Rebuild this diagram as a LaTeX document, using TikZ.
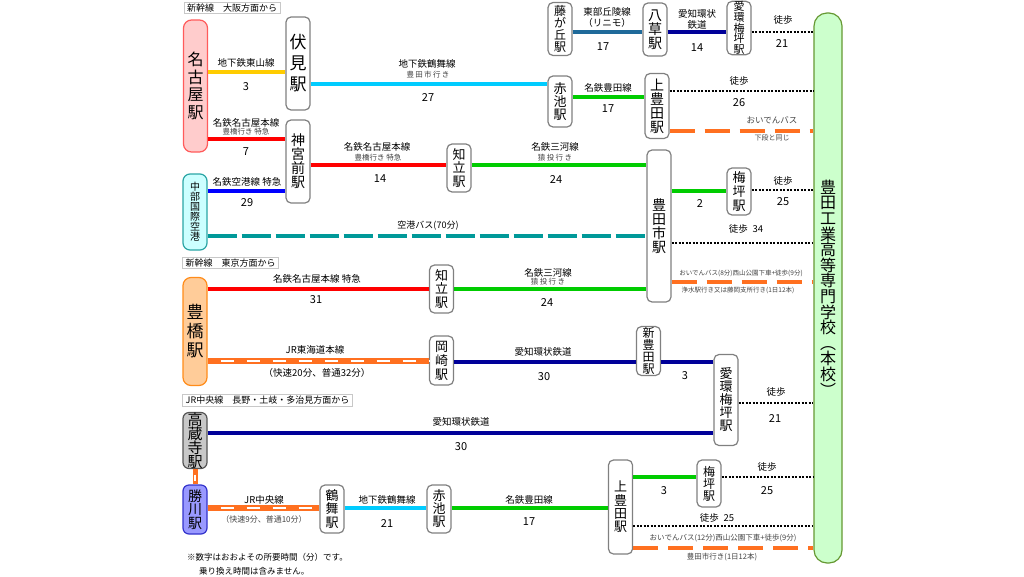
\documentclass[tikz,border=0pt]{standalone}
\usepackage{fontspec}
\setmainfont{Noto Sans CJK JP}
\newfontfamily\spfont[LetterSpace=18]{Noto Sans CJK JP}
\definecolor{stgray}{HTML}{808080}
\definecolor{hdrgray}{HTML}{C8C8C8}
\definecolor{subgray}{HTML}{444444}
\definecolor{nagofill}{HTML}{FFCCCC}
\definecolor{nagodraw}{HTML}{FF5B5B}
\definecolor{chubufill}{HTML}{CCFFFF}
\definecolor{chubudraw}{HTML}{2AA5A5}
\definecolor{toyofill}{HTML}{FFCC99}
\definecolor{toyodraw}{HTML}{FF8C1A}
\definecolor{kozofill}{HTML}{C8C8C8}
\definecolor{kozodraw}{HTML}{555555}
\definecolor{kachifill}{HTML}{9999FF}
\definecolor{kachidraw}{HTML}{3333CC}
\definecolor{kosenfill}{HTML}{CCFFCC}
\definecolor{kosendraw}{HTML}{669933}
\definecolor{cYel}{HTML}{FFCC00}
\definecolor{cCyn}{HTML}{00CCFF}
\definecolor{cGrn}{HTML}{00CC00}
\definecolor{cSteel}{HTML}{1F6A9A}
\definecolor{cNavy}{HTML}{000099}
\definecolor{cRed}{HTML}{FF0000}
\definecolor{cBlu}{HTML}{0000FF}
\definecolor{cTeal}{HTML}{009999}
\definecolor{cOrg}{HTML}{FF7020}
\tikzset{
  stn/.style={draw=stgray, line width=1.2pt, rounded corners=5pt, fill=white,
    minimum width=24pt, inner sep=0pt, align=center},
  lbl/.style={font=\fontsize{9.5}{10}\selectfont, inner sep=0pt},
  sublbl/.style={font=\fontsize{7.5}{8}\selectfont, text=subgray, inner sep=0pt},
  spsub/.style={font=\spfont\fontsize{7.5}{8}\selectfont, text=subgray, inner sep=0pt},
  num/.style={font=\fontsize{11}{11}\selectfont, inner sep=0pt},
  hdr/.style={draw=hdrgray, line width=0.8pt, font=\fontsize{9}{10}\selectfont,
    inner xsep=3pt, inner ysep=1.5pt},
  bussm/.style={font=\fontsize{6.5}{7}\selectfont, text=subgray, inner sep=0pt},
  busbg/.style={font=\fontsize{7.5}{8}\selectfont, text=subgray, inner sep=0pt},
  ln/.style={line width=4pt},
  walk/.style={line width=1.3pt, dash pattern=on 2pt off 1.5pt},
  bus/.style={draw=cOrg, line width=3.2pt, dash pattern=on 25pt off 10pt},
  abus/.style={draw=cTeal, line width=3.2pt, dash pattern=on 29pt off 5pt},
  jr/.style={draw=cOrg, line width=6pt,
    postaction={draw=white, line width=2.6pt, dash pattern=on 13pt off 13pt, dash phase=13pt}},
  jrv/.style={draw=cOrg, line width=5pt,
    postaction={draw=white, line width=2pt, dash pattern=on 6pt off 30pt, dash phase=30.5pt}},
}
\begin{document}
\begin{tikzpicture}[x=1pt,y=-1pt]
\useasboundingbox[fill=white] (0,0) rectangle (1024,576);

% headers
\node[hdr] (h1) at (232,8) {新幹線　大阪方面から};
\node[hdr] (h2) at (230.5,263) {新幹線　東京方面から};
\node[hdr] (h3) at (267.5,400.5) {JR中央線　長野・土岐・多治見方面から};

% stations
\node[stn, fill=nagofill, draw=nagodraw, rounded corners=8pt, minimum height=132pt,
  font=\fontsize{16}{17.5}\selectfont] (nagoya) at (195.5,86) {名\\古\\屋\\駅};
\node[stn, minimum height=93pt, font=\fontsize{17}{21}\selectfont] (fushimi) at (298,63.5) {伏\\見\\駅};
\node[stn, minimum height=83pt, font=\fontsize{14}{14}\selectfont] (jingu) at (298,161.5) {神\\宮\\前\\駅};
\node[stn, fill=chubufill, draw=chubudraw, rounded corners=7pt, minimum height=76pt,
  font=\fontsize{10}{10}\selectfont] (chubu) at (195,212) {中\\部\\国\\際\\空\\港};
\node[stn, minimum height=48pt, font=\fontsize{13}{13.5}\selectfont] (chiryu1) at (459,168) {知\\立\\駅};
\node[stn, minimum height=53pt, font=\fontsize{12}{12.3}\selectfont] (fujigaoka) at (560,29) {藤\\が\\丘\\駅};
\node[stn, minimum height=53pt, font=\fontsize{14}{14}\selectfont] (yakusa) at (655,29.5) {八\\草\\駅};
\node[stn, minimum height=53pt, font=\fontsize{11}{10.8}\selectfont] (aikan1) at (739,28) {愛\\環\\梅\\坪\\駅};
\node[stn, minimum height=51pt, font=\fontsize{13}{13}\selectfont] (akaike1) at (560,101.5) {赤\\池\\駅};
\node[stn, minimum height=65pt, font=\fontsize{14}{14}\selectfont] (kamitoyota1) at (657,106) {上\\豊\\田\\駅};
\node[stn, minimum height=152pt, font=\fontsize{14}{14}\selectfont] (toyotashi) at (659,226) {豊\\田\\市\\駅};
\node[stn, minimum height=47pt, font=\fontsize{13}{14}\selectfont] (umetsubo1) at (739,191.5) {梅\\坪\\駅};
\node[stn, fill=kosenfill, draw=kosendraw, rounded corners=13pt, minimum width=28pt,
  minimum height=550pt, font=\fontsize{16}{15.6}\selectfont] (kosen) at (828,288)
  {豊\\田\\工\\業\\高\\等\\専\\門\\学\\校\\︵\\本\\校\\︶};
\node[stn, fill=toyofill, draw=toyodraw, rounded corners=8pt, minimum height=108pt,
  font=\fontsize{17}{19}\selectfont] (toyohashi) at (195,331.5) {豊\\橋\\駅};
\node[stn, minimum height=48pt, font=\fontsize{13}{13.5}\selectfont] (chiryu2) at (441.5,289) {知\\立\\駅};
\node[stn, minimum height=49pt, font=\fontsize{13}{14}\selectfont] (okazaki) at (441.5,360.5) {岡\\崎\\駅};
\node[stn, minimum height=49pt, font=\fontsize{12}{12.3}\selectfont] (shintoyota) at (648.5,351) {新\\豊\\田\\駅};
\node[stn, minimum height=91pt, font=\fontsize{13}{13}\selectfont] (aikan2) at (726,400) {愛\\環\\梅\\坪\\駅};
\node[stn, fill=kozofill, draw=kozodraw, rounded corners=6pt, minimum height=56pt,
  font=\fontsize{15}{14}\selectfont] (kozoji) at (195,440.5) {高\\蔵\\寺\\駅};
\node[stn, fill=kachifill, draw=kachidraw, rounded corners=6pt, minimum height=49pt,
  font=\fontsize{14}{13.5}\selectfont] (kachigawa) at (195,509.5) {勝\\川\\駅};
\node[stn, minimum height=48pt, font=\fontsize{13}{13.5}\selectfont] (tsurumai) at (332,509) {鶴\\舞\\駅};
\node[stn, minimum height=48pt, font=\fontsize{13}{13}\selectfont] (akaike2) at (439,509) {赤\\池\\駅};
\node[stn, minimum height=94pt, font=\fontsize{13}{13.3}\selectfont] (kamitoyota2) at (620.5,507) {上\\豊\\田\\駅};
\node[stn, minimum height=47pt, font=\fontsize{12}{12}\selectfont] (umetsubo2) at (709,483.5) {梅\\坪\\駅};

% connectors
\draw[ln, cYel] (nagoya.east |- 0,72) -- (fushimi.west |- 0,72);
\draw[ln, cCyn] (fushimi.east |- 0,84) -- (akaike1.west |- 0,84);
\draw[ln, cGrn] (akaike1.east |- 0,97) -- (kamitoyota1.west |- 0,97);
\draw[ln, cSteel] (fujigaoka.east |- 0,32) -- (yakusa.west |- 0,32);
\draw[ln, cNavy] (yakusa.east |- 0,32) -- (aikan1.west |- 0,32);
\draw[walk] (aikan1.east |- 0,32) -- (kosen.west |- 0,32);
\draw[walk] (kamitoyota1.east |- 0,91) -- (kosen.west |- 0,91);
\draw[bus] (kamitoyota1.east |- 0,131) -- (kosen.west |- 0,131);
\draw[ln, cRed] (nagoya.east |- 0,139) -- (jingu.west |- 0,139);
\draw[ln, cRed] (jingu.east |- 0,165) -- (chiryu1.west |- 0,165);
\draw[ln, cGrn] (chiryu1.east |- 0,165) -- (toyotashi.west |- 0,165);
\draw[ln, cBlu] (chubu.east |- 0,191) -- (jingu.west |- 0,191);
\draw[abus] (chubu.east |- 0,236) -- (toyotashi.west |- 0,236);
\draw[ln, cGrn] (toyotashi.east |- 0,191) -- (umetsubo1.west |- 0,191);
\draw[walk] (umetsubo1.east |- 0,190) -- (kosen.west |- 0,190);
\draw[walk] (toyotashi.east |- 0,243) -- (kosen.west |- 0,243);
\draw[bus] (toyotashi.east |- 0,282) -- (kosen.west |- 0,282);
\draw[ln, cRed] (toyohashi.east |- 0,289) -- (chiryu2.west |- 0,289);
\draw[ln, cGrn] (chiryu2.east |- 0,289) -- (toyotashi.west |- 0,289);
\draw[jr] (toyohashi.east |- 0,361) -- (okazaki.west |- 0,361);
\draw[ln, cNavy] (okazaki.east |- 0,362) -- (shintoyota.west |- 0,362);
\draw[ln, cNavy] (shintoyota.east |- 0,362) -- (aikan2.west |- 0,362);
\draw[ln, cNavy] (kozoji.east |- 0,433) -- (aikan2.west |- 0,433);
\draw[walk] (aikan2.east |- 0,403) -- (kosen.west |- 0,403);
\draw[jrv] (kozoji.south) -- (kachigawa.north);
\draw[jr] (kachigawa.east |- 0,508) -- (tsurumai.west |- 0,508);
\draw[ln, cCyn] (tsurumai.east |- 0,508) -- (akaike2.west |- 0,508);
\draw[ln, cGrn] (akaike2.east |- 0,508) -- (kamitoyota2.west |- 0,508);
\draw[ln, cGrn] (kamitoyota2.east |- 0,477) -- (umetsubo2.west |- 0,477);
\draw[walk] (umetsubo2.east |- 0,477) -- (kosen.west |- 0,477);
\draw[walk] (kamitoyota2.east |- 0,526) -- (kosen.west |- 0,526);
\draw[bus] (kamitoyota2.east |- 0,548) -- (kosen.west |- 0,548);

% labels: top row
\node[lbl] (t1) at (607,12) {東部丘陵線};
\node[lbl] (t2) at (607,23) {（リニモ）};
\node[num] (t3) at (603,47) {17};
\node[lbl] (t4) at (697,14) {愛知環状};
\node[lbl] (t5) at (697,24.5) {鉄道};
\node[num] (t6) at (697,48) {14};
\node[lbl] (t7) at (783,20) {徒歩};
\node[num] (t8) at (782,44) {21};
% nagoya - fushimi - akaike - kamitoyota
\node[lbl] (a1) at (246,63) {地下鉄東山線};
\node[num] (a2) at (246,87) {3};
\node[lbl] (a3) at (427,64) {地下鉄鶴舞線};
\node[spsub] (a4) at (428,75) {豊田市行き};
\node[num] (a5) at (428,98) {27};
\node[lbl] (a6) at (608,88) {名鉄豊田線};
\node[num] (a7) at (608,109) {17};
\node[lbl] (a8) at (739,81) {徒歩};
\node[num] (a9) at (739,103) {26};
\node[font=\fontsize{8.5}{9}\selectfont, text=subgray, inner sep=0pt] (a10) at (772,120) {おいでんバス};
\node[font=\fontsize{7}{8}\selectfont, text=subgray, inner sep=0pt] (a11) at (772,137.5) {下段と同じ};
% meitetsu
\node[lbl] (b1) at (246,123) {名鉄名古屋本線};
\node[sublbl] (b2) at (246,132) {豊橋行き 特急};
\node[num] (b3) at (246,152) {7};
\node[lbl] (b4) at (377,147) {名鉄名古屋本線};
\node[sublbl] (b5) at (378,157.5) {豊橋行き 特急};
\node[num] (b6) at (380,179) {14};
\node[lbl] (b7) at (555,147) {名鉄三河線};
\node[spsub] (b8) at (555,157.5) {猿投行き};
\node[num] (b9) at (556,180) {24};
\node[lbl] (c1) at (247,182) {名鉄空港線 特急};
\node[num] (c2) at (247,203) {29};
\node[font=\fontsize{9}{10}\selectfont, inner sep=0pt] (c3) at (428,226) {空港バス(70分)};
% toyotashi
\node[num] (d1) at (700,204) {2};
\node[lbl] (d2) at (783,181) {徒歩};
\node[num] (d3) at (783,202) {25};
\node[lbl] (d4) at (746,229) {徒歩\enspace34};
\node[bussm] (d5) at (741,273) {おいでんバス(8分)西山公園下車+徒歩(9分)};
\node[bussm] (d6) at (738,290) {浄水駅行き又は藤岡支所行き(1日12本)};
% toyohashi
\node[lbl] (e1) at (317,279) {名鉄名古屋本線 特急};
\node[num] (e2) at (316,300) {31};
\node[lbl] (e3) at (548,273) {名鉄三河線};
\node[spsub] (e4) at (548,282) {猿投行き};
\node[num] (e5) at (547,302) {24};
\node[lbl] (e6) at (315,350) {JR東海道本線};
\node[lbl] (e7) at (317,373) {（快速20分、普通32分）};
\node[lbl] (e8) at (543,352) {愛知環状鉄道};
\node[num] (e9) at (544,377) {30};
\node[num] (e10) at (685,376) {3};
\node[lbl] (e11) at (776,392) {徒歩};
\node[num] (e12) at (775,418) {21};
% kozoji
\node[lbl] (f1) at (461,422) {愛知環状鉄道};
\node[num] (f2) at (461,447) {30};
% kachigawa
\node[lbl] (g1) at (264,500) {JR中央線};
\node[font=\fontsize{8}{9}\selectfont, text=subgray, inner sep=0pt] (g2) at (264,519) {（快速9分、普通10分）};
\node[lbl] (g3) at (387,500) {地下鉄鶴舞線};
\node[num] (g4) at (387,523) {21};
\node[lbl] (g5) at (529,500) {名鉄豊田線};
\node[num] (g6) at (529,522) {17};
\node[num] (g7) at (664,491) {3};
\node[lbl] (g8) at (767,467) {徒歩};
\node[num] (g9) at (767,491) {25};
\node[lbl] (g10) at (717,518) {徒歩\enspace25};
\node[busbg] (g11) at (723,538) {おいでんバス(12分)西山公園下車+徒歩(9分)};
\node[busbg] (g12) at (722,557) {豊田市行き(1日12本)};
% footer
\node[font=\fontsize{8.5}{9}\selectfont, inner sep=0pt, anchor=west] (n1) at (187,557) {※数字はおおよその所要時間（分）です。};
\node[font=\fontsize{8.5}{9}\selectfont, inner sep=0pt, anchor=west] (n2) at (199,571) {乗り換え時間は含みません。};
\end{tikzpicture}
\end{document}
